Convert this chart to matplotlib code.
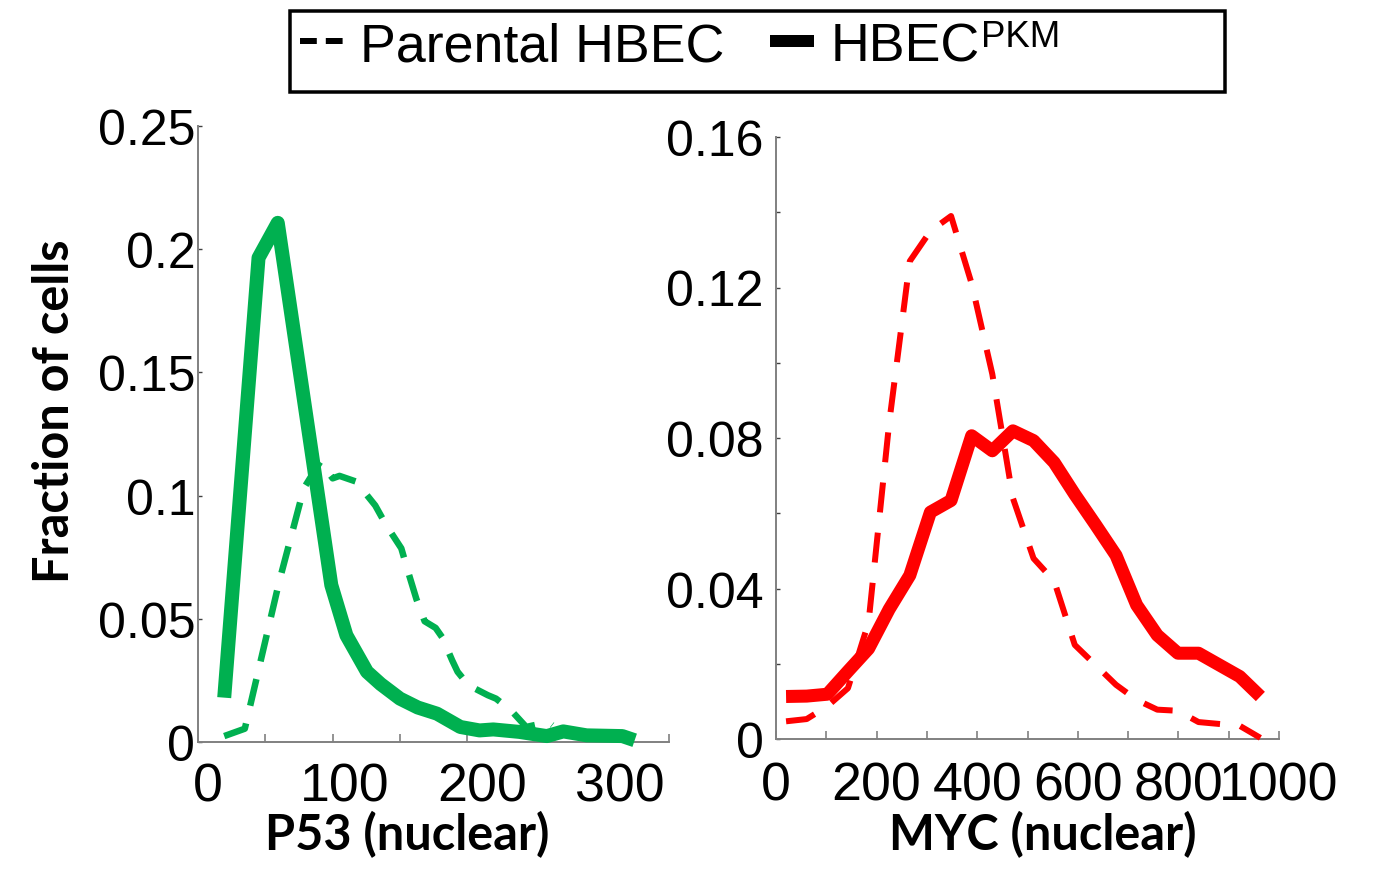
import matplotlib
matplotlib.use("Agg")
import matplotlib.pyplot as plt
from matplotlib.lines import Line2D
from matplotlib.patches import Rectangle
from matplotlib import font_manager
import numpy as np

# ---------------- data ----------------
# Left panel: P53 (nuclear)
p53_pkm_x = [12, 37, 51, 90, 101, 116, 126, 140, 153, 167, 184, 198, 208, 227, 247, 259, 276, 302, 311]
p53_pkm_y = [0.018, 0.1965, 0.2107, 0.0637, 0.0433, 0.0285, 0.0235, 0.0176, 0.014, 0.0115,
             0.0061, 0.0047, 0.0051, 0.0041, 0.0024, 0.0043, 0.0027, 0.0024, 0.0007]
p53_parental_x = [12, 27, 52, 70, 82, 91, 96, 108, 122, 130, 141, 146, 152, 158, 166, 171,
                  178, 182, 190, 204, 210, 221, 232, 248, 251]
p53_parental_y = [0.0024, 0.0054, 0.065, 0.103, 0.1138, 0.107, 0.108, 0.1057, 0.096, 0.088,
                  0.0786, 0.069, 0.058, 0.049, 0.0463, 0.0423, 0.0332, 0.0285, 0.023, 0.019,
                  0.0176, 0.0128, 0.0061, 0.0081, 0.0068]

# Right panel: MYC (nuclear)
myc_x = [20, 61, 102, 143, 184, 225, 266, 307, 348, 389, 430, 471, 512, 553, 594, 635,
         676, 717, 758, 799, 840, 881, 922, 963]
myc_pkm_y = [0.0113, 0.0114, 0.0119, 0.018, 0.024, 0.0345, 0.0435, 0.0603, 0.0634, 0.0806,
             0.0766, 0.0819, 0.0793, 0.0735, 0.065, 0.057, 0.0488, 0.0356, 0.0276, 0.0228,
             0.0228, 0.0197, 0.0166, 0.0113]
myc_parental_y = [0.0047, 0.0053, 0.0087, 0.0135, 0.031, 0.084, 0.127, 0.135, 0.139, 0.121,
                  0.097, 0.064, 0.048, 0.042, 0.025, 0.0197, 0.0144, 0.0104, 0.0078, 0.0075,
                  0.0045, 0.004, 0.0035, 0.0003]

p53_xticks = [0, 100, 200, 300]
p53_yticks = [0, 0.05, 0.10, 0.15, 0.20, 0.25]
p53_yticklabels = ["0", "0.05", "0.1", "0.15", "0.2", "0.25"]
myc_xticks = [0, 200, 400, 600, 800, 1000]
myc_yticks = [0, 0.04, 0.08, 0.12, 0.16]
myc_yticklabels = ["0", "0.04", "0.08", "0.12", "0.16"]

legend_labels = ["Parental HBEC", "HBEC"]
legend_superscript = "PKM"
xlabel_left = "P53 (nuclear)"
xlabel_right = "MYC (nuclear)"
ylabel = "Fraction of cells"

GREEN = "#00B050"
RED = "#FF0000"
SPINE = "#808080"

# ---------------- fonts ----------------
def has_font(name):
    try:
        font_manager.findfont(font_manager.FontProperties(family=name), fallback_to_default=False)
        return True
    except Exception:
        return False

if has_font("Liberation Sans Narrow"):
    NARROW = ["Liberation Sans Narrow", "DejaVu Sans"]
    narrow_scale = 1.0
else:
    NARROW = ["Liberation Sans", "DejaVu Sans"]
    narrow_scale = 0.88
SANS = ["Liberation Sans", "DejaVu Sans"]
BOLD = ["Lato", "DejaVu Sans"]

# ---------------- figure ----------------
W, H = 1383, 879
fig = plt.figure(figsize=(W / 100, H / 100), dpi=100)

def fx(px):
    return px / W

def fy(py):
    return 1 - py / H

axL = fig.add_axes([fx(198), fy(743), fx(669) - fx(198), fy(127) - fy(743)])
axR = fig.add_axes([fx(776), fy(740), fx(1279) - fx(776), fy(138) - fy(740)])

PT = 72 / 100  # points per pixel

# Left panel
axL.plot(p53_pkm_x, p53_pkm_y, color=GREEN, lw=14 * PT, solid_capstyle="butt",
         solid_joinstyle="round", clip_on=False, zorder=3)
axL.plot(p53_parental_x, p53_parental_y, color=GREEN, lw=6.5 * PT,
         linestyle=(0, (4.2, 2.8)), dash_capstyle="butt", clip_on=False, zorder=4)

# Right panel
axR.plot(myc_x, myc_pkm_y, color=RED, lw=13 * PT, solid_capstyle="butt",
         solid_joinstyle="round", clip_on=False, zorder=3)
axR.plot(myc_x, myc_parental_y, color=RED, lw=6 * PT,
         linestyle=(0, (5.0, 3.4)), dash_capstyle="butt", clip_on=False, zorder=4)

# axes limits / ticks
xminL, xmaxL = -7.1, 336
axL.set_xlim(xminL, xmaxL)
axL.set_ylim(0, 0.25)
axL.set_xticks(p53_xticks)
axL.set_xticklabels([str(v) for v in p53_xticks])
axL.set_xticks(np.linspace(xminL, xmaxL, 8)[1:], minor=True)
axL.set_yticks(p53_yticks)
axL.set_yticklabels(p53_yticklabels)
axL.tick_params(axis="x", which="major", length=0, pad=14)
axL.tick_params(axis="x", which="minor", length=8 * PT, direction="in", color=SPINE, width=1.2)
axL.tick_params(axis="y", which="major", length=4 * PT, direction="in", color="#404040", width=1.0, pad=2)

axR.set_xlim(0, 1000)
axR.set_ylim(0, 0.16)
axR.set_xticks(myc_xticks)
axR.set_xticklabels([str(v) for v in myc_xticks])
axR.set_xticks([100, 300, 500, 700, 900], minor=True)
axR.set_yticks(myc_yticks)
axR.set_yticklabels(myc_yticklabels)
axR.set_yticks([0.02, 0.06, 0.10, 0.14], minor=True)
axR.tick_params(axis="x", which="both", length=8 * PT, direction="in", color=SPINE, width=1.2, pad=15.5)
axR.tick_params(axis="y", which="both", length=4 * PT, direction="in", color="#404040", width=1.0, pad=9)

for ax in (axL, axR):
    for s in ("top", "right"):
        ax.spines[s].set_visible(False)
    for s in ("left", "bottom"):
        ax.spines[s].set_color(SPINE)
        ax.spines[s].set_linewidth(1.4)
        ax.spines[s].set_zorder(2)
    ax.set_facecolor("none")
    for lab in ax.get_yticklabels():
        lab.set_fontfamily(SANS)
        lab.set_fontsize(36)
    for lab in ax.get_xticklabels():
        lab.set_fontfamily(NARROW)
        lab.set_fontsize(44 * narrow_scale)

# axis labels
axL.set_xlabel(xlabel_left, fontfamily=BOLD, fontweight="bold", fontsize=35)
axL.xaxis.set_label_coords((407 - 198) / 471, (743 - 811) / 616)
axR.set_xlabel(xlabel_right, fontfamily=BOLD, fontweight="bold", fontsize=35)
axR.xaxis.set_label_coords((1043 - 776) / 503, (740 - 811) / 602)
axL.set_ylabel(ylabel, fontfamily=BOLD, fontweight="bold", fontsize=35)
axL.yaxis.label.set_verticalalignment("center")
axL.yaxis.set_label_coords((54 - 198) / 471, (743 - 411) / 616)

# legend
LEG_SIZE = 44 * narrow_scale
h1 = Line2D([], [], color="black", lw=6 * PT, linestyle=(0, (2.8, 1.5)), dash_capstyle="butt")
h2 = Line2D([], [], color="black", lw=12 * PT, solid_capstyle="butt")
leg = fig.legend([h1, h2], legend_labels, ncol=2, frameon=False, loc="center left",
                 bbox_to_anchor=(fx(300), fy(47)), borderpad=0, borderaxespad=0,
                 handlelength=0.82, handletextpad=0.3, columnspacing=0.85,
                 prop={"family": NARROW, "size": LEG_SIZE})
fig.add_artist(Rectangle((fx(290), fy(93)), fx(1225) - fx(290), fy(12) - fy(93),
                         transform=fig.transFigure, fill=False, edgecolor="black", lw=3.5 * PT))

fig.canvas.draw()
bb = leg.get_texts()[1].get_window_extent()
fig.text(bb.x1 / W + 0.001, fy(20), legend_superscript, ha="left", va="top",
         fontfamily=NARROW, fontsize=30 * narrow_scale)

fig.savefig("out.png", dpi=100)
